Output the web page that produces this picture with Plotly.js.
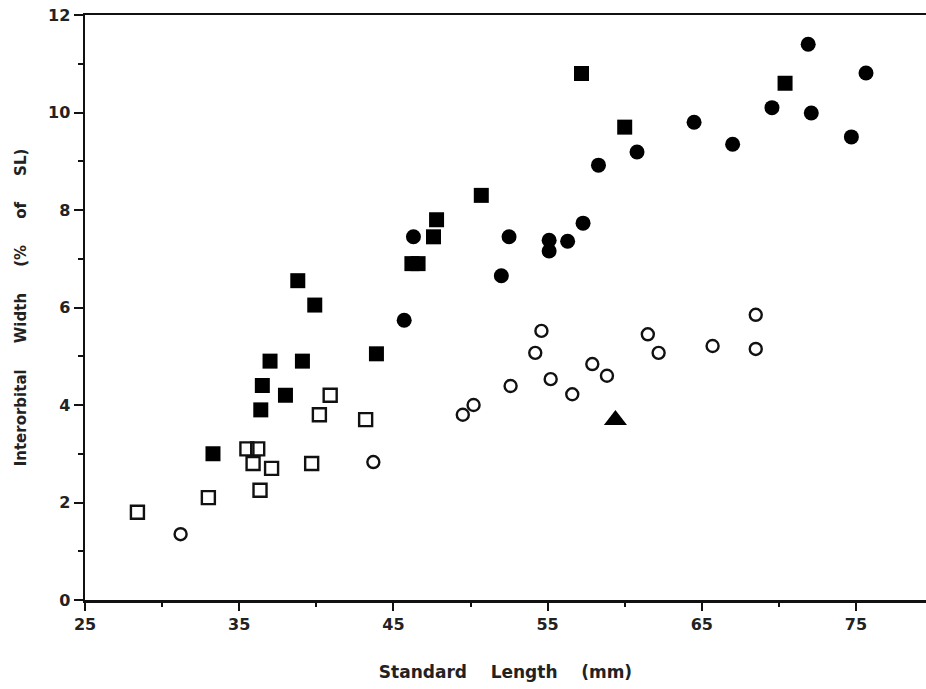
<!DOCTYPE html>
<html>
<head>
<meta charset="utf-8">
<script src="https://cdn.plot.ly/plotly-3.0.1.min.js"></script>
<style>html,body{margin:0;padding:0;background:#fff;}#chart{width:926px;height:689px;}</style>
</head>
<body>
<div id="chart"></div>
<script>
// Filled squares
const filledSquareX = [33.3, 36.4, 36.5, 37.0, 38.0, 39.1, 38.8, 39.9, 43.9, 46.2, 46.6, 47.6, 47.8, 50.7, 57.2, 60.0, 70.4];
const filledSquareY = [3.0, 3.9, 4.4, 4.9, 4.2, 4.9, 6.55, 6.05, 5.05, 6.9, 6.9, 7.45, 7.8, 8.3, 10.8, 9.7, 10.6];
// Open squares
const openSquareX = [28.4, 33.0, 35.5, 36.2, 35.9, 37.1, 36.35, 39.7, 40.2, 40.9, 43.2];
const openSquareY = [1.8, 2.1, 3.1, 3.1, 2.8, 2.7, 2.25, 2.8, 3.8, 4.2, 3.7];
// Filled circles
const filledCircleX = [45.7, 46.3, 52.0, 52.5, 55.1, 55.1, 56.3, 57.3, 58.3, 60.8, 64.5, 67.0, 69.55, 71.9, 72.1, 74.7, 75.65];
const filledCircleY = [5.74, 7.45, 6.65, 7.45, 7.38, 7.16, 7.36, 7.73, 8.92, 9.19, 9.8, 9.35, 10.1, 11.4, 9.99, 9.5, 10.81];
// Open circles
const openCircleX = [31.2, 43.7, 49.5, 50.2, 52.6, 54.2, 54.6, 55.2, 56.6, 57.9, 58.85, 61.5, 62.2, 65.7, 68.5, 68.5];
const openCircleY = [1.35, 2.83, 3.8, 4.0, 4.39, 5.07, 5.52, 4.53, 4.22, 4.84, 4.6, 5.45, 5.07, 5.21, 5.85, 5.15];
// Triangle
const triangleX = [59.4];
const triangleY = [3.69];

const xTickVals = [25, 35, 45, 55, 65, 75];
const xTickText = ['25', '35', '45', '55', '65', '75'];
const yTickVals = [0, 2, 4, 6, 8, 10, 12];
const yTickText = ['0', '2', '4', '6', '8', '10', '12'];

const traces = [
  {x: openSquareX, y: openSquareY, type: 'scatter', mode: 'markers',
   marker: {symbol: 'square-open', size: 13, color: '#111', line: {width: 2.4, color: '#111'}}},
  {x: openCircleX, y: openCircleY, type: 'scatter', mode: 'markers',
   marker: {symbol: 'circle-open', size: 12, color: '#111', line: {width: 2.4, color: '#111'}}},
  {x: filledSquareX, y: filledSquareY, type: 'scatter', mode: 'markers',
   marker: {symbol: 'square', size: 15, color: '#000'}},
  {x: filledCircleX, y: filledCircleY, type: 'scatter', mode: 'markers',
   marker: {symbol: 'circle', size: 15, color: '#000'}},
  {x: triangleX, y: triangleY, type: 'scatter', mode: 'markers',
   marker: {symbol: 'triangle-up', size: 20, color: '#000'}}
];

const FAM = 'DejaVu Sans, Liberation Sans, Arial, sans-serif';
const tickFont = {family: FAM, size: 16, color: '#222', weight: 'bold'};
const sp = '\u00a0\u00a0\u00a0\u00a0';
const sp5 = '\u00a0\u00a0\u00a0\u00a0\u00a0';

const layout = {
  width: 926, height: 689,
  margin: {l: 85, r: 0, t: 15, b: 89},
  paper_bgcolor: '#fff', plot_bgcolor: '#fff',
  showlegend: false,
  xaxis: {
    range: [25, 79.54], showgrid: false, zeroline: false,
    showline: true, linewidth: 2.5, linecolor: '#111', mirror: true,
    tickvals: xTickVals, ticktext: xTickText,
    ticks: 'outside', ticklen: 8, tickwidth: 2, tickcolor: '#111',
    minor: {tick0: 25, dtick: 5, ticks: 'outside', ticklen: 4, tickwidth: 2, tickcolor: '#111', showgrid: false},
    tickfont: tickFont,
    title: {text: 'Standard' + sp + 'Length' + sp + '(mm)', font: {family: FAM, size: 17, color: '#222', weight: 'bold'}, standoff: 34}
  },
  yaxis: {
    range: [0, 12], showgrid: false, zeroline: false,
    showline: true, linewidth: 2.5, linecolor: '#111',
    tickvals: yTickVals, ticktext: yTickText,
    ticks: 'outside', ticklen: 9, tickwidth: 2, tickcolor: '#111',
    minor: {dtick: 1, ticks: 'outside', ticklen: 5, tickwidth: 2, tickcolor: '#111', showgrid: false},
    tickfont: tickFont,
    title: {text: 'Interorbital' + sp5 + 'Width' + sp5 + '(%' + sp5 + 'of' + sp5 + 'SL)', font: {family: FAM, size: 15, color: '#222', weight: 'bold'}, standoff: 18}
  }
};

Plotly.newPlot('chart', traces, layout, {displayModeBar: false, staticPlot: true});
</script>
</body>
</html>
